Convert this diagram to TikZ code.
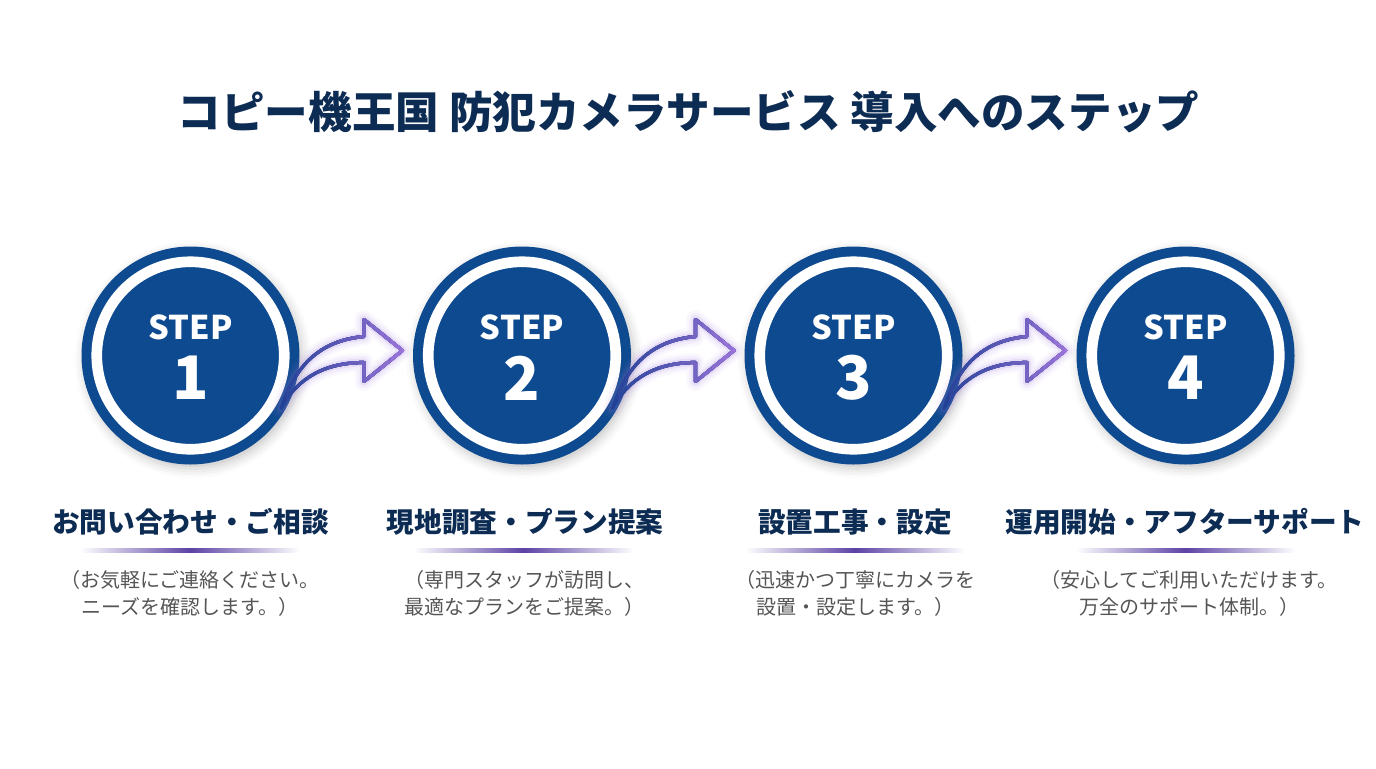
\documentclass[tikz,border=0pt]{standalone}
\usepackage{fontspec}
\setmainfont{Noto Sans CJK JP}
\usetikzlibrary{shadows.blur}

\definecolor{stepblue}{RGB}{14,74,143}
\definecolor{titlenavy}{RGB}{13,44,84}
\definecolor{descgray}{RGB}{85,85,85}
\definecolor{arrowblue}{RGB}{35,65,150}
\definecolor{arrowpurple}{RGB}{160,118,220}
\definecolor{rulepurple}{RGB}{92,66,165}

\newcommand{\arrowoutline}{(90.5,53) .. controls (105,9) and (130,-15) .. (173.5,-19) -- (173.5,-36) -- (212,-5) -- (173.5,26) -- (173.5,7) .. controls (135,7) and (107,22) .. (90.5,53) -- cycle}

\tikzset{
  stepcircle/.style={circle,fill=stepblue,inner sep=0pt,minimum size=163.5pt,
    blur shadow={shadow xshift=2pt,shadow yshift=-3pt,shadow blur radius=7pt,shadow opacity=22},
    path picture={\draw[white,line width=8pt] (path picture bounding box.center) circle (93.75);}},
  steptext/.style={text=white,font=\bfseries\fontsize{24.5}{28}\selectfont,inner sep=0pt},
  stepnum/.style={text=white,font=\bfseries\fontsize{45}{50}\selectfont,inner sep=0pt},
  headtext/.style={text=titlenavy,font=\bfseries\fontsize{20.75}{24}\selectfont,inner sep=0pt},
  desctext/.style={text=descgray,font=\fontsize{15}{20.25}\selectfont,align=center,inner sep=0pt},
  rulebar/.style={left color=white,right color=white,middle color=rulepurple,shading angle=90,inner sep=0pt,minimum width=165pt,minimum height=3pt,shading=axis},
  every pic/.style={yscale=-1},
  flowarrow/.pic={
    %glow
    \foreach \w/\o in {14/0.05,10/0.08,6/0.14}
      \draw[arrowpurple,line width=\w pt,opacity=\o,line join=round] \arrowoutline;
    %outline, blue at the tail to purple at the tip
    \foreach \i in {0,...,12}{
      \pgfmathsetmacro{\xa}{85+\i*10.5}
      \pgfmathsetmacro{\mixa}{100-\i*8.3}
      \begin{scope}
        \clip (\xa,-60) rectangle (230,70);
        \draw[arrowblue!\mixa!arrowpurple,line width=2.4pt,line join=round] \arrowoutline;
      \end{scope}
    }
  }
}

\begin{document}
\begin{tikzpicture}[x=0.75pt,y=0.75pt,yscale=-1,xscale=1]
\useasboundingbox (0,0) rectangle (1376,768);

% Title
\node[text=titlenavy,font=\bfseries\fontsize{32.65}{38}\selectfont,inner sep=0pt] (title) at (688.5,112) {コピー機王国 防犯カメラサービス 導入へのステップ};

% Step circles
\node[stepcircle] (stepa) at (190.5,355.5) {};
\node[stepcircle] (stepb) at (522,355.5) {};
\node[stepcircle] (stepc) at (853.5,355.5) {};
\node[stepcircle] (stepd) at (1185.5,355.5) {};

% Step labels
\node[steptext] (labela) at (190.5,327) {STEP};
\node[steptext] (labelb) at (522,327) {STEP};
\node[steptext] (labelc) at (853.5,327) {STEP};
\node[steptext] (labeld) at (1185.5,327) {STEP};
\node[stepnum] (numa) at (190.5,378) {1};
\node[stepnum] (numb) at (522,378) {2};
\node[stepnum] (numc) at (853.5,378) {3};
\node[stepnum] (numd) at (1185.5,378) {4};

% Arrows
\pic at (stepa.center) {flowarrow};
\pic at (stepb.center) {flowarrow};
\pic at (stepc.center) {flowarrow};

% Headings
\node[headtext] (heada) at (190.5,522) {お問い合わせ・ご相談};
\node[headtext] (headb) at (525,522) {現地調査・プラン提案};
\node[headtext] (headc) at (855,522) {設置工事・設定};
\node[headtext] (headd) at (1185,522) {運用開始・アフターサポート};

% Rules
\node[rulebar] (rulea) at (190,550) {};
\node[rulebar] (ruleb) at (523.5,550) {};
\node[rulebar] (rulec) at (855,550) {};
\node[rulebar] (ruled) at (1185.5,550) {};

% Descriptions
\node[desctext] (desca) at (190,593.5) {（お気軽にご連絡ください。\\ニーズを確認します。）};
\node[desctext] (descb) at (524.5,593.5) {（専門スタッフが訪問し、\\最適なプランをご提案。）};
\node[desctext] (descc) at (855,593.5) {（迅速かつ丁寧にカメラを\\設置・設定します。）};
\node[desctext] (descd) at (1189,593.5) {（安心してご利用いただけます。\\万全のサポート体制。）};

\end{tikzpicture}
\end{document}
